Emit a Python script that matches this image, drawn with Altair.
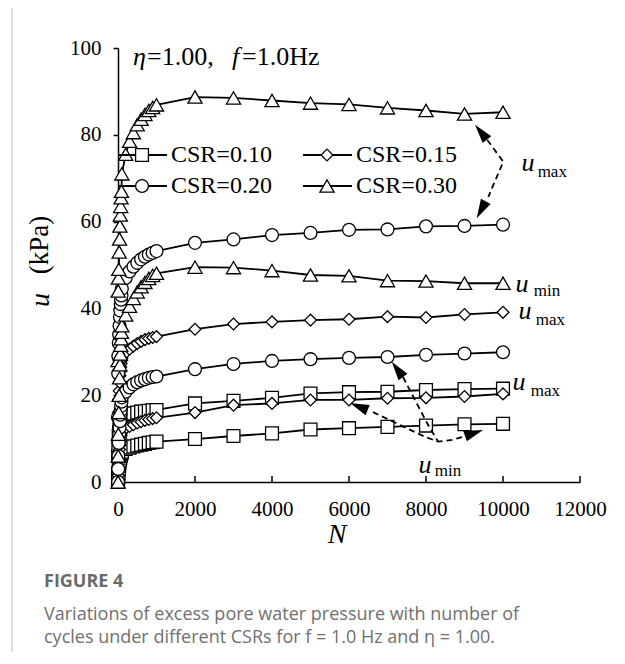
import math
import altair as alt
import pandas as pd

# ---------------- data ----------------
N_VALUES = [1, 5, 10, 20, 30, 40, 50, 60, 70, 80, 90,
            100, 200, 300, 400, 500, 600, 700, 800, 900, 1000,
            2000, 3000, 4000, 5000, 6000, 7000, 8000, 9000, 10000]

U_010_MAX = [2, 6, 8.5, 10.5, 11.5, 12.3, 13, 13.5, 14, 14.3, 14.6,
             14.8, 15.3, 15.6, 15.8, 16.0, 16.2, 16.3, 16.4, 16.5, 16.6,
             18.1, 18.7, 19.4, 20.4, 20.7, 20.8, 21.2, 21.4, 21.5]
U_010_MIN = [0, 1, 2, 3, 3.8, 4.5, 5.1, 5.6, 6, 6.4, 6.7,
             7.0, 7.6, 7.9, 8.2, 8.4, 8.6, 8.8, 9.0, 9.15, 9.3,
             9.9, 10.6, 11.2, 12.1, 12.4, 12.7, 13.0, 13.3, 13.4]
U_015_MAX = [5, 12, 16, 19, 21, 23, 24.5, 25.5, 26.5, 27.3, 28,
             28.5, 29.8, 30.6, 31.3, 31.9, 32.4, 32.8, 33.1, 33.3, 33.5,
             35.2, 36.4, 36.9, 37.3, 37.5, 38.1, 37.9, 38.6, 39.1]
U_015_MIN = [0, 1.5, 3, 5, 6.5, 7.5, 8.5, 9.3, 10, 10.7, 11.3,
             11.8, 12.4, 12.8, 13.2, 13.6, 13.9, 14.2, 14.4, 14.6, 14.8,
             16.0, 17.7, 18.1, 18.9, 18.9, 19.3, 19.4, 19.7, 20.3]
U_020_MAX = [15, 25, 29, 32, 34, 36, 38, 39.5, 41, 42, 43,
             44.5, 47, 48.5, 49.6, 50.5, 51.3, 51.9, 52.4, 52.8, 53.2,
             55.1, 55.9, 56.9, 57.4, 58.1, 58.2, 58.9, 59.0, 59.3]
U_020_MIN = [0, 3, 6, 9, 11, 12.5, 14, 15.5, 16.5, 17.5, 18.5,
             19.5, 20.8, 21.8, 22.5, 23.0, 23.4, 23.7, 24.0, 24.2, 24.3,
             26.0, 27.2, 27.9, 28.3, 28.6, 28.8, 29.3, 29.6, 29.9]
U_030_MAX = [28, 44, 47, 49, 53, 56, 59, 61.5, 63.5, 65.5, 67,
             71, 75.5, 78.5, 80.5, 82.3, 83.6, 84.7, 85.6, 86.3, 86.9,
             88.7, 88.5, 87.9, 87.3, 87.0, 86.2, 85.6, 84.8, 85.2]
U_030_MIN = [0, 6, 11, 16, 20, 24, 27, 29.5, 31.5, 33, 34.5,
             36, 38.5, 40.5, 42.3, 43.8, 45.0, 46.0, 46.9, 47.6, 48.1,
             49.5, 49.4, 48.7, 47.7, 47.5, 46.4, 46.3, 45.8, 45.8]

CSR_LABELS = ["CSR=0.10", "CSR=0.15", "CSR=0.20", "CSR=0.30"]
SERIES = {
    ("CSR=0.10", "max"): U_010_MAX, ("CSR=0.10", "min"): U_010_MIN,
    ("CSR=0.15", "max"): U_015_MAX, ("CSR=0.15", "min"): U_015_MIN,
    ("CSR=0.20", "max"): U_020_MAX, ("CSR=0.20", "min"): U_020_MIN,
    ("CSR=0.30", "max"): U_030_MAX, ("CSR=0.30", "min"): U_030_MIN,
}

X_TICKS = [0, 2000, 4000, 6000, 8000, 10000, 12000]
Y_TICKS = [0, 20, 40, 60, 80, 100]

# annotation labels (N, u, text, kind)
LABEL_N = [10649, 10900, 10494, 10800, 10571, 10850, 10416, 10720, 7974, 8230]
LABEL_U = [73.5, 71.4, 45.6, 43.9, 39.4, 37.4, 23.1, 21.0, 3.9, 2.6]
LABEL_TXT = ["u", "max", "u", "min", "u", "max", "u", "max", "u", "min"]
LABEL_KIND = ["u", "sub", "u", "sub", "u", "sub", "u", "sub", "u", "sub"]

# dashed arrow paths (N, u)
PATHS = {
    "p1": [(9592, 78.8), (10008, 73.8), (9618, 65.7)],
    "p2": [(7403, 24.2), (7714, 18.9), (8026, 13.6), (8312, 9.3)],
    "p3": [(6623, 16.1), (7499, 12.4), (7974, 10.4), (8312, 9.3), (8675, 9.7), (8961, 10.4)],
}
# arrow heads: (tip N, tip u, base N, base u)
HEADS = [
    (9273, 82.3, 9592, 78.8),
    (9317, 60.8, 9618, 65.7),
    (7109, 27.7, 7403, 24.2),
    (6026, 18.2, 6623, 16.1),
    (9481, 12.0, 8961, 10.4),
]

# ---------------- styling ----------------
W, H = 462, 434
PXN = W / 12000
PXU = H / 100
SERIF = "Liberation Serif"
SANS = "Open Sans"
SHAPES = {"CSR=0.10": "square", "CSR=0.15": "diamond", "CSR=0.20": "circle", "CSR=0.30": "triangle-up"}
SIZES = {"CSR=0.10": 165, "CSR=0.15": 140, "CSR=0.20": 165, "CSR=0.30": 200}

rows = []
for (csr, kind), vals in SERIES.items():
    for n, u in zip(N_VALUES, vals):
        rows.append({"N": n, "u": u, "csr": csr, "series": csr + kind, "kind": kind})
df = pd.DataFrame(rows)

xs = alt.Scale(domain=[0, 12000], nice=False, zero=False)
ys = alt.Scale(domain=[0, 100], nice=False)
xaxis = alt.Axis(values=X_TICKS, title=None, grid=False, ticks=False, domainColor="black",
                 domainWidth=1.5, labelFont=SERIF, labelFontSize=21, labelColor="black",
                 labelPadding=16, labelFlush=False, labelOverlap=False, format="d")
yaxis = alt.Axis(values=Y_TICKS, title=None, grid=False, ticks=True, tickSize=5, tickColor="black",
                 tickWidth=1.5, domainColor="black", domainWidth=1.5, labelFont=SERIF,
                 labelFontSize=21, labelColor="black", labelPadding=12, labelFlush=False, format="d")
X = alt.X("N:Q", scale=xs, axis=xaxis)
Y = alt.Y("u:Q", scale=ys, axis=yaxis)

one = pd.DataFrame({"a": [0]})
layers = []

# frame
layers.append(alt.Chart(one).mark_rect(filled=False, stroke="#cccccc", strokeWidth=1.3).encode(
    x=alt.value(-106), x2=alt.value(504), y=alt.value(-43), y2=alt.value(H + 400)))

# x ticks pointing inward
layers.append(alt.Chart(pd.DataFrame({"N": X_TICKS[1:]})).mark_rule(color="black", strokeWidth=1.5).encode(
    x=X, y=alt.value(H), y2=alt.value(H - 6)))

# series lines
layers.append(alt.Chart(df).mark_line(color="black", strokeWidth=1.8).encode(
    x=X, y=Y, detail="series:N", order="N:Q"))

# series markers
for csr in CSR_LABELS:
    layers.append(alt.Chart(df[df.csr == csr]).mark_point(
        shape=SHAPES[csr], size=SIZES[csr], filled=True, fill="white", stroke="black",
        strokeWidth=1.3, opacity=1).encode(x=X, y=Y))

# dashed arrows
arows = []
for p, pts in PATHS.items():
    for i, (n, u) in enumerate(pts):
        arows.append({"N": n, "u": u, "path": p, "seq": i})
layers.append(alt.Chart(pd.DataFrame(arows)).mark_line(
    color="black", strokeWidth=1.8, strokeDash=[6, 4]).encode(x=X, y=Y, detail="path:N", order="seq:Q"))

# arrowheads
L = 19
hrows = []
for tn, tu, bn, bu in HEADS:
    tx, ty = tn * PXN, H - tu * PXU
    bx, by = bn * PXN, H - bu * PXU
    dx, dy = tx - bx, ty - by
    d = math.hypot(dx, dy)
    ux, uy = dx / d, dy / d
    cx, cy = tx - ux * L / 2, ty - uy * L / 2
    ang = math.degrees(math.atan2(ux, -uy)) % 360
    hrows.append({"N": cx / PXN, "u": (H - cy) / PXU, "ang": ang})
layers.append(alt.Chart(pd.DataFrame(hrows)).mark_point(
    shape="M0,-1L0.58,1L-0.58,1Z", size=L * L, filled=True, color="black", opacity=1,
    strokeWidth=0).encode(x=X, y=Y, angle=alt.Angle("ang:Q", scale=None)))

# u_max / u_min labels
ldf = pd.DataFrame({"N": LABEL_N, "u": LABEL_U, "txt": LABEL_TXT, "kind": LABEL_KIND})
layers.append(alt.Chart(ldf[ldf.kind == "u"]).mark_text(
    font=SERIF, fontSize=26, fontStyle="italic", align="center", baseline="middle", color="black").encode(
    x=X, y=Y, text="txt:N"))
layers.append(alt.Chart(ldf[ldf.kind == "sub"]).mark_text(
    font=SERIF, fontSize=17, align="left", baseline="middle", color="black").encode(
    x=X, y=Y, text="txt:N"))

# legend (drawn as key)
LEG_COL_X = [0, 185]
LEG_ROW_Y = [107, 138]
for i, csr in enumerate(CSR_LABELS):
    cx0 = LEG_COL_X[i % 2]
    ry = LEG_ROW_Y[i // 2]
    layers.append(alt.Chart(one).mark_rule(color="black", strokeWidth=1.8).encode(
        x=alt.value(cx0), x2=alt.value(cx0 + 49), y=alt.value(ry)))
    layers.append(alt.Chart(one).mark_point(
        shape=SHAPES[csr], size=SIZES[csr], filled=True, fill="white", stroke="black",
        strokeWidth=1.3, opacity=1).encode(x=alt.value(cx0 + 24), y=alt.value(ry)))
    layers.append(alt.Chart(one).mark_text(
        text=csr, font=SERIF, fontSize=24, align="left", baseline="middle", color="black").encode(
        x=alt.value(cx0 + 53), y=alt.value(ry)))

# condition annotation
for txt, x0, ital in [("η", 15, True), ("=1.00,", 29, False), ("f", 114, True), ("=1.0Hz", 124, False)]:
    layers.append(alt.Chart(one).mark_text(
        text=txt, font=SERIF, fontSize=26, fontStyle="italic" if ital else "normal",
        align="left", baseline="middle", color="black").encode(x=alt.value(x0), y=alt.value(9)))

# axis titles
layers.append(alt.Chart(one).mark_text(
    text="(kPa)", font=SERIF, fontSize=27, angle=270, align="center", baseline="middle",
    color="black").encode(x=alt.value(-78), y=alt.value(197)))
layers.append(alt.Chart(one).mark_text(
    text="u", font=SERIF, fontSize=28, fontStyle="italic", angle=270, align="center",
    baseline="middle", color="black").encode(x=alt.value(-77), y=alt.value(252)))
layers.append(alt.Chart(one).mark_text(
    text="N", font=SERIF, fontSize=28, fontStyle="italic", align="center", baseline="middle",
    color="black").encode(x=alt.value(219), y=alt.value(487)))

# caption
layers.append(alt.Chart(one).mark_text(
    text="FIGURE 4", font=SANS, fontSize=18, fontWeight="bold", align="left", baseline="middle",
    color="#6a6a6a").encode(x=alt.value(-74), y=alt.value(534)))
layers.append(alt.Chart(one).mark_text(
    text="Variations of excess pore water pressure with number of", font=SANS, fontSize=18,
    align="left", baseline="middle", color="#707070").encode(x=alt.value(-74), y=alt.value(567)))
layers.append(alt.Chart(one).mark_text(
    text="cycles under different CSRs for f = 1.0 Hz and η = 1.00.", font=SANS, fontSize=18,
    align="left", baseline="middle", color="#707070").encode(x=alt.value(-74), y=alt.value(590)))

chart = alt.layer(*layers).properties(
    width=W, height=H,
    autosize=alt.AutoSizeParams(type="none"),
    padding={"left": 110, "top": 40, "right": 37, "bottom": 170},
    background="white",
).configure_view(stroke=None)

chart.save("out.html", embed_options={"renderer": "svg", "actions": False})
